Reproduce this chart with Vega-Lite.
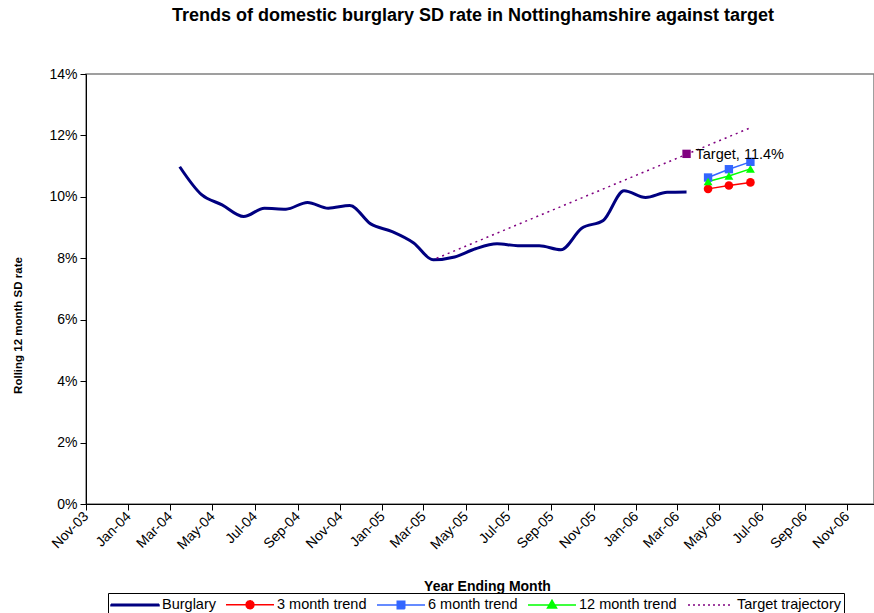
{
  "$schema": "https://vega.github.io/schema/vega-lite/v6.json",
  "width": 788,
  "height": 430,
  "autosize": "none",
  "padding": {"left": 86, "top": 74, "right": 0, "bottom": 109},
  "background": "white",
  "config": {
    "font": "Liberation Sans",
    "view": {"stroke": "#808080", "strokeWidth": 1.5},
    "axis": {"labelColor": "black", "titleColor": "black", "domainColor": "black", "tickColor": "black", "tickSize": 6, "grid": false, "labelFont": "Liberation Sans", "titleFont": "Liberation Sans"},
    "legend": {"labelFont": "Liberation Sans"}
  },
  "title": {
    "text": "Trends of domestic burglary SD rate in Nottinghamshire against target",
    "fontSize": 18,
    "fontWeight": "bold",
    "font": "Liberation Sans",
    "color": "black",
    "anchor": "middle",
    "frame": "group",
    "dx": -7,
    "offset": 28,
    "baseline": "alphabetic"
  },
  "data": {
    "values": [
      {"series": "Burglary", "date": "2004-03-15", "rate": 0.1098},
      {"series": "Burglary", "date": "2004-04-15", "rate": 0.1008},
      {"series": "Burglary", "date": "2004-05-15", "rate": 0.0974},
      {"series": "Burglary", "date": "2004-06-15", "rate": 0.0936},
      {"series": "Burglary", "date": "2004-07-15", "rate": 0.0963},
      {"series": "Burglary", "date": "2004-08-15", "rate": 0.0960},
      {"series": "Burglary", "date": "2004-09-15", "rate": 0.0982},
      {"series": "Burglary", "date": "2004-10-15", "rate": 0.0963},
      {"series": "Burglary", "date": "2004-11-15", "rate": 0.0972},
      {"series": "Burglary", "date": "2004-12-15", "rate": 0.0912},
      {"series": "Burglary", "date": "2005-01-15", "rate": 0.0887},
      {"series": "Burglary", "date": "2005-02-15", "rate": 0.0850},
      {"series": "Burglary", "date": "2005-03-15", "rate": 0.0795},
      {"series": "Burglary", "date": "2005-04-15", "rate": 0.0804},
      {"series": "Burglary", "date": "2005-05-15", "rate": 0.0831},
      {"series": "Burglary", "date": "2005-06-15", "rate": 0.0847},
      {"series": "Burglary", "date": "2005-07-15", "rate": 0.0841},
      {"series": "Burglary", "date": "2005-08-15", "rate": 0.0841},
      {"series": "Burglary", "date": "2005-09-15", "rate": 0.0828},
      {"series": "Burglary", "date": "2005-10-15", "rate": 0.0898},
      {"series": "Burglary", "date": "2005-11-15", "rate": 0.0923},
      {"series": "Burglary", "date": "2005-12-15", "rate": 0.1020},
      {"series": "Burglary", "date": "2006-01-15", "rate": 0.0998},
      {"series": "Burglary", "date": "2006-02-15", "rate": 0.1015},
      {"series": "Burglary", "date": "2006-03-15", "rate": 0.1016},
      {"series": "3 month trend", "date": "2006-04-15", "rate": 0.1026},
      {"series": "3 month trend", "date": "2006-05-15", "rate": 0.1037},
      {"series": "3 month trend", "date": "2006-06-15", "rate": 0.1047},
      {"series": "6 month trend", "date": "2006-04-15", "rate": 0.1063},
      {"series": "6 month trend", "date": "2006-05-15", "rate": 0.1090},
      {"series": "6 month trend", "date": "2006-06-15", "rate": 0.1114},
      {"series": "12 month trend", "date": "2006-04-15", "rate": 0.1050},
      {"series": "12 month trend", "date": "2006-05-15", "rate": 0.1068},
      {"series": "12 month trend", "date": "2006-06-15", "rate": 0.1091},
      {"series": "Target trajectory", "date": "2005-03-20", "rate": 0.0800},
      {"series": "Target trajectory", "date": "2006-06-15", "rate": 0.1225},
      {"series": "Target", "date": "2006-03-15", "rate": 0.1140, "label": "Target, 11.4%"}
    ]
  },
  "encoding": {
    "x": {
      "field": "date",
      "type": "temporal",
      "scale": {"type": "utc", "domain": [{"year": 2003, "month": 11, "date": 1, "utc": true}, {"year": 2006, "month": 12, "date": 10, "utc": true}]},
      "axis": {
        "title": "Year Ending Month",
        "titleFontSize": 14,
        "titleFontWeight": "bold",
        "titleX": 401,
        "titleY": 86,
        "titleBaseline": "alphabetic",
        "titleAnchor": "middle",
        "format": "%b-%y",
        "labelAngle": -45,
        "labelAlign": "right",
        "labelBaseline": "middle",
        "labelFontSize": 14,
        "labelPadding": 4,
        "labelOverlap": false,
        "values": [
          {"year": 2003, "month": 11, "date": 1, "utc": true},
          {"year": 2004, "month": 1, "date": 1, "utc": true},
          {"year": 2004, "month": 3, "date": 1, "utc": true},
          {"year": 2004, "month": 5, "date": 1, "utc": true},
          {"year": 2004, "month": 7, "date": 1, "utc": true},
          {"year": 2004, "month": 9, "date": 1, "utc": true},
          {"year": 2004, "month": 11, "date": 1, "utc": true},
          {"year": 2005, "month": 1, "date": 1, "utc": true},
          {"year": 2005, "month": 3, "date": 1, "utc": true},
          {"year": 2005, "month": 5, "date": 1, "utc": true},
          {"year": 2005, "month": 7, "date": 1, "utc": true},
          {"year": 2005, "month": 9, "date": 1, "utc": true},
          {"year": 2005, "month": 11, "date": 1, "utc": true},
          {"year": 2006, "month": 1, "date": 1, "utc": true},
          {"year": 2006, "month": 3, "date": 1, "utc": true},
          {"year": 2006, "month": 5, "date": 1, "utc": true},
          {"year": 2006, "month": 7, "date": 1, "utc": true},
          {"year": 2006, "month": 9, "date": 1, "utc": true},
          {"year": 2006, "month": 11, "date": 1, "utc": true}
        ]
      }
    },
    "y": {
      "field": "rate",
      "type": "quantitative",
      "scale": {"domain": [0, 0.14], "nice": false, "zero": true},
      "axis": {
        "title": "Rolling 12 month SD rate",
        "titleFontSize": 11.5,
        "titleFontWeight": "bold",
        "titleX": -68,
        "titleY": 251,
        "titleAngle": -90,
        "titleAlign": "center",
        "titleBaseline": "middle",
        "format": ".0%",
        "values": [0, 0.02, 0.04, 0.06, 0.08, 0.1, 0.12, 0.14],
        "labelFontSize": 14,
        "labelPadding": 3
      }
    }
  },
  "layer": [
    {
      "transform": [{"filter": "datum.series === 'Burglary'"}],
      "mark": {"type": "line", "interpolate": "monotone", "strokeWidth": 3},
      "encoding": {
        "color": {
          "field": "series",
          "type": "nominal",
          "scale": {
            "domain": ["Burglary", "3 month trend", "6 month trend", "12 month trend", "Target trajectory"],
            "range": ["#000080", "#FF0000", "#3366FF", "#00FF00", "#800080"]
          },
          "legend": {
            "title": null,
            "orient": "none",
            "legendX": 22,
            "legendY": 519,
            "direction": "horizontal",
            "columns": 5,
            "strokeColor": "black",
            "fillColor": "white",
            "padding": 3,
            "cornerRadius": 0,
            "symbolSize": 225,
            "symbolStrokeWidth": 1.5,
            "symbolType": "stroke",
            "labelFontSize": 14.5,
            "labelColor": "black",
            "labelOffset": 34,
            "labelBaseline": "middle",
            "columnPadding": 7,
            "encode": {
              "symbols": {
                "update": {
                  "shape": {"signal": "datum.value === '3 month trend' ? 'M-1.133,0H5.267M2.6,0L2.529,0.267L2.334,0.462L2.067,0.533L1.8,0.462L1.605,0.267L1.534,0L1.605,-0.267L1.8,-0.462L2.067,-0.533L2.334,-0.462L2.529,-0.267Z' : datum.value === '6 month trend' ? 'M-1.133,0H5.267M1.567,-0.5H2.567V0.5H1.567Z' : datum.value === '12 month trend' ? 'M-1.133,0H5.267M2.067,-0.62L2.667,0.4L1.467,0.4Z' : datum.value === 'Burglary' ? 'M-1.133,-0.1H5.267V0.1H-1.133Z' : 'M-0.867,0H4.867'"},
                  "stroke": {"signal": "datum.value === 'Burglary' ? '#000080' : datum.value === '3 month trend' ? '#FF0000' : datum.value === '6 month trend' ? '#3366FF' : datum.value === '12 month trend' ? '#00FF00' : '#800080'"},
                  "fill": {"signal": "datum.value === 'Burglary' ? '#000080' : datum.value === '3 month trend' ? '#FF0000' : datum.value === '6 month trend' ? '#3366FF' : datum.value === '12 month trend' ? '#00FF00' : 'transparent'"},
                  "strokeDash": {"signal": "datum.value === 'Target trajectory' ? [2, 3] : [1, 0]"},
                  "size": {"value": 225},
                  "opacity": {"value": 1}
                }
              }
            }
          }
        }
      }
    },
    {
      "transform": [{"filter": "datum.series === '3 month trend' || datum.series === '6 month trend' || datum.series === '12 month trend'"}],
      "mark": {"type": "line", "strokeWidth": 1.5},
      "encoding": {
        "color": {"field": "series", "type": "nominal"},
        "detail": {"field": "series"}
      }
    },
    {
      "transform": [{"filter": "datum.series === 'Target trajectory'"}],
      "mark": {"type": "line", "strokeWidth": 1.5, "strokeDash": [2, 4]},
      "encoding": {
        "color": {"field": "series", "type": "nominal"}
      }
    },
    {
      "transform": [{"filter": "datum.series === '3 month trend'"}],
      "mark": {"type": "point", "shape": "circle", "filled": true, "size": 75, "opacity": 1, "color": "#FF0000"},
      "encoding": {}
    },
    {
      "transform": [{"filter": "datum.series === '6 month trend'"}],
      "mark": {"type": "point", "shape": "square", "filled": true, "size": 70, "opacity": 1, "color": "#3366FF"},
      "encoding": {}
    },
    {
      "transform": [{"filter": "datum.series === '12 month trend'"}],
      "mark": {"type": "point", "shape": "triangle-up", "filled": true, "size": 80, "opacity": 1, "color": "#00FF00"},
      "encoding": {}
    },
    {
      "transform": [{"filter": "datum.series === 'Target'"}],
      "mark": {"type": "point", "shape": "square", "filled": true, "size": 70, "opacity": 1, "color": "#800080"},
      "encoding": {}
    },
    {
      "transform": [{"filter": "datum.series === 'Target'"}],
      "mark": {"type": "text", "align": "left", "baseline": "middle", "dx": 9, "dy": 1, "fontSize": 14.5, "font": "Liberation Sans", "color": "black"},
      "encoding": {"text": {"field": "label"}}
    }
  ]
}
